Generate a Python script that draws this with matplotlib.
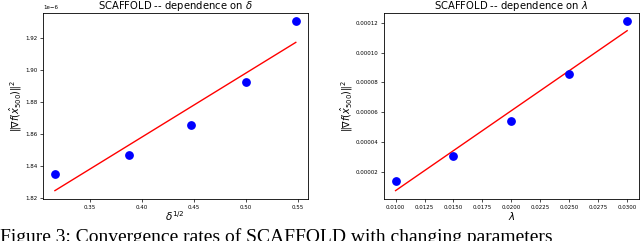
import numpy as np
import matplotlib
matplotlib.use("Agg")
import matplotlib.pyplot as plt

# left panel: x = sqrt(delta), y in units of 1e-6
delta = np.array([0.10, 0.15, 0.20, 0.25, 0.30])
grad_delta = np.array([1.835, 1.847, 1.8655, 1.892, 1.930]) * 1e-6

# right panel: lambda
lam = np.array([0.010, 0.015, 0.020, 0.025, 0.030])
grad_lam = np.array([0.0000142, 0.0000307, 0.0000543, 0.0000853, 0.0001208])

ylabel = r"$\Vert\nabla f(\hat{x}_{500})\Vert^2$"
caption = "Figure 3: Convergence rates of SCAFFOLD with changing parameters"


def panel(ax, x, y, title, xlabel):
    coef = np.polyfit(x, y, 1)
    ax.plot(x, np.polyval(coef, x), color="red", lw=1.0)
    ax.scatter(x, y, color="blue", s=28, zorder=3)
    ax.set_title(title, fontsize=7.2, pad=0.5)
    ax.set_xlabel(xlabel, fontsize=7.5, labelpad=0)
    ax.set_ylabel(ylabel, fontsize=7, labelpad=0.5)
    ax.tick_params(labelsize=4, length=2, width=0.5, pad=2)
    ax.yaxis.get_offset_text().set_fontsize(4)
    for sp in ax.spines.values():
        sp.set_linewidth(0.6)


fig = plt.figure(figsize=(6.4, 2.41), dpi=100)
ax1 = fig.add_axes([0.067, 0.174, 0.414, 0.772])
ax2 = fig.add_axes([0.600, 0.174, 0.398, 0.772])

panel(ax1, np.sqrt(delta), grad_delta, r"SCAFFOLD -- dependence on $\delta$", r"$\delta^{1/2}$")
panel(ax2, lam, grad_lam, r"SCAFFOLD -- dependence on $\lambda$", r"$\lambda$")
ax2.yaxis.set_major_formatter(matplotlib.ticker.FormatStrFormatter("%.5f"))
ax2.xaxis.set_major_formatter(matplotlib.ticker.FormatStrFormatter("%.4f"))

fig.text(0.0, -0.004, caption, family="Liberation Serif", fontsize=14, va="baseline", ha="left")

fig.savefig("out.png", dpi=100)
